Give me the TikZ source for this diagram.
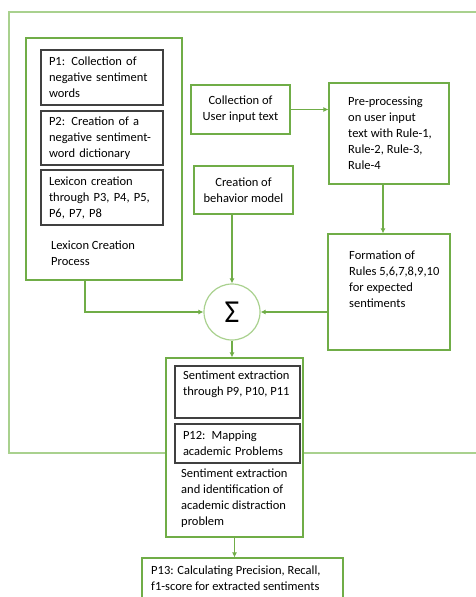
\documentclass[tikz,border=0pt]{standalone}
\usepackage{fontspec}
\setmainfont{Carlito}
\usepackage{xcolor}
\usepackage{tikz}
\usetikzlibrary{arrows.meta}
\definecolor{boxgreen}{RGB}{112,173,71}
\definecolor{framegreen}{RGB}{169,209,142}
\definecolor{boxgray}{RGB}{64,64,64}

\begin{document}
\begin{tikzpicture}[x=1pt,y=-1pt,font=\fontsize{12.5}{16}\selectfont]
			\tikzstyle{frame} = [draw=boxgreen, line width=1.2pt, fill=white]
			\tikzstyle{outline} = [draw=boxgray, line width=1.3pt, fill=white, inner xsep=0pt]
			\tikzstyle{plain} = [inner sep=0pt, align=left, anchor=north west]
			\tikzset{link/.style = {-{Latex[length=5pt,width=5pt]}, draw=boxgreen, line width=1.6pt}}
			
			\useasboundingbox (0,0) rectangle (476,597);
			\draw[framegreen, line width=1.2pt] (480,12) -- (9,12) -- (9,453) -- (480,453);
			
			\node[frame, minimum width=156pt, minimum height=242pt](lexbox) at (104,159) {};
			\node[outline, minimum width=122pt, minimum height=55pt, text width=106pt, align=left](p1) at (102,77.5) {P1: Collection of\\negative sentiment\\words};
			\node[outline, minimum width=122pt, minimum height=54pt, text width=106pt, align=left](p2) at (102,138) {P2: Creation of a\\negative sentiment-\\word dictionary};
			\node[outline, minimum width=122pt, minimum height=55pt, text width=106pt, align=left](p3) at (102,197.5) {Lexicon creation\\through P3, P4, P5,\\P6, P7, P8};
			\node[plain](lexlabel) at (51,240.5) {Lexicon Creation\\Process};
			
			\node[frame, minimum width=99pt, minimum height=49pt, align=center](collect) at (240.5,109.5) {Collection of\\User input text};
			\node[frame, minimum width=120pt, minimum height=101pt](prep) at (389,133.5) {};
			\node[plain, anchor=west](preptext) at (348,133) {Pre-processing\\on user input\\text with Rule-1,\\Rule-2, Rule-3,\\Rule-4};
			\node[frame, minimum width=99pt, minimum height=48pt, align=center](behav) at (243.5,190) {Creation of\\behavior model};
			\node[frame, minimum width=122pt, minimum height=116pt](form) at (389,292) {};
			\node[plain](formtext) at (349,250.5) {Formation of\\Rules 5,6,7,8,9,10\\for expected\\sentiments};
			\node[circle, draw=framegreen, line width=1.2pt, fill=white, minimum size=56pt, inner sep=0pt, font=\fontsize{32}{32}\selectfont](sigma) at (232,312) {Σ};
			
			\node[frame, minimum width=137pt, minimum height=179pt](extbox) at (234.5,447.5) {};
			\node[outline, minimum width=125pt, minimum height=52pt](p9) at (237.5,392) {};
			\node[plain](p9text) at (183,370.5) {Sentiment extraction\\through P9, P10, P11};
			\node[outline, minimum width=125pt, minimum height=39pt, text width=109pt, align=left](p12) at (237.5,443.5) {P12: Mapping\\academic Problems};
			\node[plain](extlabel) at (181,468.5) {Sentiment extraction\\and identification of\\academic distraction\\problem};
			
			\node[frame, minimum width=201pt, minimum height=52pt](p13) at (242.5,584) {};
			\node[plain](p13text) at (151,565.5) {P13: Calculating Precision, Recall,\\f1-score for extracted sentiments};
			
			\draw[link]([xshift=-19pt]lexbox.south) |- (sigma.west);
			\draw[link](sigma.north |- behav.south) -- (sigma.north);
			\draw[link](collect.east) -- (collect.east -| prep.west);
			\draw[link]([xshift=-6pt]prep.south) -- ([xshift=-6pt]prep.south |- form.north);
			\draw[link](form.west |- sigma.east) -- (sigma.east);
			\draw[link](sigma.south) -- (sigma.south |- extbox.north);
			\draw[link](extbox.south) -- (extbox.south |- p13.north);
			
\end{tikzpicture}
\end{document}
